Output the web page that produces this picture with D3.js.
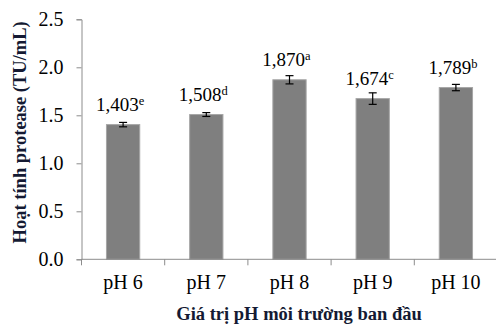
<!DOCTYPE html>
<meta charset="utf-8">
<style>
body { margin: 0; background: #fff; }
svg { display: block; }
svg text { font-family: "Liberation Serif", "Times New Roman", serif; }
.axis path, .axis line { stroke: #8c8c8c; }
.axis text { fill: #000; font-size: 20px; }
</style>
<svg width="496" height="324"></svg>
<script src="https://d3js.org/d3.v7.min.js"></script>
<script>
let categories = ["pH 6", "pH 7", "pH 8", "pH 9", "pH 10"];
let values = [1.403, 1.508, 1.870, 1.674, 1.789];
let errors = [0.023, 0.02, 0.043, 0.06, 0.033];
let letters = ["e", "d", "a", "c", "b"];
let yTicks = [0, 0.5, 1.0, 1.5, 2.0, 2.5];

let svg = d3.select("svg");
let plotLeft = 81.5, plotRight = 497.5, plotTop = 19.3, plotBottom = 259.3;

let x = d3.scaleBand().domain(categories).range([plotLeft, plotRight]).paddingInner(0.6).paddingOuter(0.3);
let y = d3.scaleLinear().domain([0, 2.5]).range([plotBottom, plotTop]);

// y axis
svg.append("g")
    .attr("class", "axis")
    .attr("transform", "translate(" + plotLeft + ",0)")
    .call(d3.axisLeft(y).tickValues(yTicks).tickFormat(d3.format(".1f")).tickSize(5).tickPadding(13).tickSizeOuter(5))
    .attr("font-family", null).attr("font-size", null);

// bars
svg.append("g").selectAll("rect")
    .data(values)
    .enter()
    .append("rect")
    .attr("x", (d, i) => x(categories[i]))
    .attr("width", x.bandwidth())
    .attr("y", d => y(d))
    .attr("height", d => plotBottom - y(d))
    .attr("fill", "#7f7f7f")
    .attr("stroke", "#a6a6a6")
    .attr("stroke-width", 1);

// x axis with ticks between categories
let xa = svg.append("g").attr("class", "axis");
xa.append("line").attr("x1", plotLeft).attr("x2", plotRight).attr("y1", plotBottom).attr("y2", plotBottom);
categories.forEach((c, i) => {
    let bx = plotLeft + i * (plotRight - plotLeft) / categories.length;
    xa.append("line").attr("x1", bx).attr("x2", bx).attr("y1", plotBottom).attr("y2", plotBottom + 6);
    xa.append("text")
        .attr("x", x(c) + x.bandwidth() / 2)
        .attr("y", 289)
        .attr("text-anchor", "middle")
        .text(c);
});

// error bars
let eb = svg.append("g").attr("stroke", "#000").attr("stroke-width", 1.2);
values.forEach((v, i) => {
    let cx = x(categories[i]) + x.bandwidth() / 2;
    eb.append("line").attr("x1", cx).attr("x2", cx).attr("y1", y(v - errors[i])).attr("y2", y(v + errors[i]));
    eb.append("line").attr("x1", cx - 4).attr("x2", cx + 4).attr("y1", y(v - errors[i])).attr("y2", y(v - errors[i]));
    eb.append("line").attr("x1", cx - 4).attr("x2", cx + 4).attr("y1", y(v + errors[i])).attr("y2", y(v + errors[i]));
});

// value labels
let fmt = v => d3.format(".3f")(v).replace(".", ",");
values.forEach((v, i) => {
    let t = svg.append("text")
        .attr("x", x(categories[i]) + x.bandwidth() / 2 - 3)
        .attr("y", y(v) - 14)
        .attr("text-anchor", "middle")
        .attr("font-size", "19px")
        .text(fmt(v));
    t.append("tspan").attr("font-size", "12.5px").attr("dy", "-6").text(letters[i]);
});

// axis titles
svg.append("text")
    .attr("transform", "translate(26," + ((plotTop + plotBottom) / 2 - 7) + ") rotate(-90)")
    .attr("text-anchor", "middle")
    .attr("font-size", "18.5px")
    .attr("font-weight", "bold")
    .attr("fill", "#141a33")
    .text("Hoạt tính protease (TU/mL)");

svg.append("text")
    .attr("x", 299)
    .attr("y", 320)
    .attr("text-anchor", "middle")
    .attr("font-size", "18.5px")
    .attr("font-weight", "bold")
    .attr("fill", "#141a33")
    .text("Giá trị pH môi trường ban đầu");
</script>
